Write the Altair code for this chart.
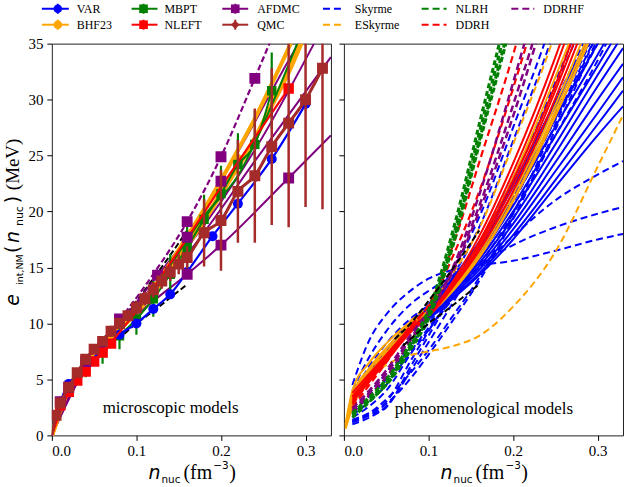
import altair as alt
import pandas as pd

# ---------------- microscopic models (left panel) ----------------
VAR_N = [0.0, 0.01, 0.02, 0.03, 0.04, 0.06, 0.08, 0.10, 0.12, 0.14, 0.16, 0.19, 0.22, 0.26, 0.30]
VAR_E = [0.0, 3.0, 4.6, 5.4, 6.2, 7.7, 9.0, 10.0, 11.3, 12.6, 14.6, 17.8, 20.7, 24.7, 29.6]

MBPT_N = [0.04, 0.06, 0.08, 0.10, 0.12, 0.14, 0.16, 0.18, 0.20, 0.22, 0.24, 0.26]
MBPT_E = [6.0, 7.4, 8.9, 10.4, 12.2, 14.4, 16.8, 19.3, 21.6, 24.2, 26.0, 30.8]
MBPT_ERR = [0.8, 1.0, 1.2, 1.4, 1.6, 1.8, 2.0, 2.2, 2.5, 2.8, 3.0, 3.4]
MBPT2_N = [0.10, 0.14, 0.18, 0.22, 0.26, 0.29]
MBPT2_E = [11.0, 15.2, 19.6, 23.2, 29.5, 35.0]

BHF_N = [0.0, 0.02, 0.04, 0.06, 0.08, 0.10, 0.12, 0.14, 0.16, 0.18, 0.20, 0.22, 0.24, 0.26, 0.28, 0.30]
BHF_E = [0.0, 4.2, 6.2, 7.9, 9.5, 11.0, 12.8, 14.8, 17.0, 19.2, 21.6, 24.0, 26.5, 29.5, 32.5, 36.0]
BHF2_E = [0.0, 4.3, 6.3, 8.0, 9.7, 11.3, 13.2, 15.4, 17.8, 20.2, 22.8, 25.5, 28.3, 31.4, 34.6, 38.0]
BHF_PTS_N = [0.16, 0.18, 0.20, 0.22, 0.24, 0.26]
BHF_PTS_E = [17.4, 19.7, 22.2, 24.7, 26.1, 30.5]

NLEFT_PTS_N = [0.01, 0.02, 0.03, 0.04, 0.05, 0.06, 0.07, 0.28]
NLEFT_PTS_E = [2.7, 3.9, 4.9, 5.7, 6.6, 7.4, 8.2, 31.0]
NLEFT_N = [0.0, 0.02, 0.04, 0.06, 0.08, 0.10, 0.12, 0.14, 0.16, 0.20, 0.24, 0.28]
NLEFT_E = [0.0, 3.9, 5.7, 7.4, 9.2, 11.1, 13.2, 15.4, 17.6, 22.2, 26.6, 31.0]

AFDMC_DASH_N = [0.0, 0.04, 0.08, 0.12, 0.16, 0.20, 0.24, 0.26]
AFDMC_DASH_E = [0.0, 6.5, 10.3, 14.4, 19.1, 24.9, 31.9, 35.5]
AFDMC_LINES_N = [
    [0.0, 0.04, 0.08, 0.12, 0.16, 0.20, 0.24, 0.28, 0.30],
    [0.0, 0.04, 0.08, 0.12, 0.16, 0.20, 0.28, 0.33],
    [0.08, 0.16, 0.24, 0.31],
    [0.08, 0.16, 0.24, 0.33],
]
AFDMC_LINES_E = [
    [0.0, 6.2, 10.0, 13.8, 17.7, 22.7, 28.0, 33.5, 36.0],
    [0.0, 6.0, 9.4, 12.0, 14.4, 17.0, 23.0, 26.8],
    [10.2, 16.8, 25.5, 35.0],
    [10.0, 16.2, 24.5, 33.8],
]
AFDMC_PTS_N = [0.01, 0.02, 0.04, 0.08, 0.125, 0.16, 0.16, 0.16, 0.20, 0.20, 0.20, 0.24, 0.28]
AFDMC_PTS_E = [3.0, 4.3, 6.6, 10.4, 14.3, 14.4, 17.7, 19.1, 17.0, 22.7, 24.9, 31.9, 23.0]

QMC_N = [0.0, 0.005, 0.01, 0.02, 0.03, 0.04, 0.05, 0.06, 0.07, 0.08, 0.09, 0.10, 0.11, 0.12, 0.13,
         0.14, 0.15, 0.16, 0.18, 0.20, 0.22, 0.24, 0.26, 0.28, 0.30, 0.32]
QMC_E = [0.0, 1.8, 2.9, 4.3, 5.6, 6.8, 7.7, 8.4, 9.3, 10.0, 10.7, 11.4, 12.2, 13.0, 13.8,
         14.6, 15.3, 15.9, 18.1, 19.2, 21.8, 23.2, 25.8, 27.9, 30.0, 32.8]
QMC_ERR = [0.0, 0.3, 0.3, 0.3, 0.3, 0.4, 0.4, 0.4, 0.5, 0.5, 0.5, 0.6, 0.6, 0.7, 0.7,
           0.8, 0.9, 1.0, 3.0, 4.5, 4.6, 6.0, 7.0, 9.3, 9.6, 12.6]

BLACK_N = [[0.06, 0.08, 0.10, 0.12, 0.14, 0.16], [0.07, 0.08, 0.10, 0.12, 0.14, 0.16]]
BLACK_E = [[8.6, 10.1, 12.0, 14.0, 16.1, 18.3], [8.0, 8.7, 10.0, 11.1, 12.3, 13.5]]

# ---------------- phenomenological models (right panel) ----------------
PH_N = [0.01, 0.03, 0.05, 0.08, 0.10, 0.13, 0.16, 0.20, 0.25, 0.30, 0.33]
PH_N_ORIGIN = [0.002]  # orange solid curves start close to the origin

SKYRME_DASHED = [
    [3.0, 5.5, 7.5, 10.3, 11.7, 15.0, 19.5, 27.5, 38, 52, 62],
    [2.6, 5.0, 7.2, 10.1, 11.4, 14.4, 18.6, 26.3, 36.5, 50, 60],
    [1.2, 1.8, 2.5, 6.3, 8.9, 12.8, 16.8, 22.8, 31.2, 40, 46],
    [1.4, 2.0, 3.0, 6.8, 9.3, 13.0, 17.0, 23.0, 31.6, 41, 47],
    [1.0, 1.6, 2.6, 5.9, 8.3, 12.0, 15.8, 21.7, 29.8, 38, 44],
    [1.6, 2.6, 4.0, 7.4, 9.4, 12.5, 15.8, 20.8, 28.3, 36, 41],
    [2.0, 3.5, 5.0, 8.2, 10.0, 12.9, 16.0, 21.2, 28.7, 36.5, 41.5],
    [2.2, 3.8, 5.6, 8.8, 10.5, 13.4, 16.4, 21.2, 28.2, 35.0, 39.5],
    [1.8, 3.0, 4.5, 7.6, 9.6, 12.3, 15.2, 19.8, 26.8, 33.5, 38],
    [1.2, 1.8, 2.8, 5.2, 7.2, 10.4, 13.8, 19.3, 27.3, 35.5, 41],
    [1.3, 2.0, 3.2, 5.7, 7.6, 10.8, 14.1, 19.8, 27.8, 36, 41.5],
    [4.5, 8.5, 10.8, 13.0, 14.0, 14.8, 15.2, 15.6, 16.5, 17.5, 18.0],
    [4.0, 7.0, 9.3, 11.8, 12.9, 14.2, 15.3, 17.0, 18.6, 19.8, 20.4],
    [3.5, 6.2, 8.2, 10.5, 11.6, 13.2, 15.0, 17.8, 21.0, 23.3, 24.5],
]
SKYRME_SOLID = [
    [3.0, 5.5, 7.5, 10.0, 11.2, 13.8, 16.8, 21.6, 28.4, 35.0, 39.0],
    [3.2, 5.6, 7.6, 10.0, 11.1, 13.5, 16.3, 21.0, 27.6, 34.0, 38.0],
    [2.8, 5.3, 7.4, 9.9, 11.0, 13.4, 16.0, 20.5, 26.8, 33.0, 36.8],
    [3.1, 5.4, 7.4, 9.9, 11.0, 13.2, 15.7, 20.0, 26.0, 32.2, 35.8],
    [3.3, 5.6, 7.5, 9.8, 10.8, 13.0, 15.4, 19.4, 25.2, 31.2, 34.6],
    [2.9, 5.2, 7.2, 9.6, 10.7, 12.8, 15.1, 18.9, 24.4, 30.0, 33.2],
    [3.0, 5.3, 7.2, 9.6, 10.6, 12.6, 14.8, 18.4, 23.6, 28.8, 32.0],
    [3.2, 5.4, 7.3, 9.5, 10.5, 12.4, 14.5, 17.9, 22.8, 27.8, 30.8],
    [2.8, 5.0, 7.0, 9.4, 10.4, 12.3, 14.3, 17.5, 22.2, 26.8, 29.4],
    [3.0, 5.4, 7.5, 10.1, 11.4, 14.2, 17.3, 22.5, 29.8, 37.0, 41.5],
    [3.3, 5.7, 7.7, 10.2, 11.4, 14.1, 17.1, 22.2, 29.4, 36.5, 41.0],
]
ESKYRME_DASHED = [
    [3.0, 5.5, 7.6, 10.3, 11.6, 14.6, 18.5, 26.0, 36.0, 49, 58],
    [3.0, 5.0, 6.3, 7.2, 7.5, 8.0, 8.9, 11.5, 16.4, 24.0, 28.6],
]
ESKYRME_SOLID = [
    [0.9, 3.5, 6.0, 7.8, 10.0, 11.0, 13.3, 16.3, 21.5, 29.5, 39, 46],
    [0.7, 3.0, 5.5, 7.4, 9.8, 10.9, 13.1, 15.9, 20.9, 28.5, 37.5, 44],
    [1.0, 4.0, 6.5, 8.2, 10.2, 11.1, 13.3, 16.0, 21.0, 28.6, 37, 43],
    [0.6, 2.5, 5.0, 7.0, 9.5, 10.7, 13.0, 15.9, 21.0, 29.0, 38, 45],
    [0.8, 3.2, 5.8, 7.7, 9.9, 10.9, 13.6, 17.0, 23.0, 32.0, 42, 50],
]
DDRH_SOLID = [
    [3.5, 5.2, 7.0, 9.5, 10.8, 13.9, 17.8, 24.3, 33.8, 45, 53],
    [3.2, 5.0, 6.8, 9.4, 10.7, 13.6, 17.3, 23.5, 32.8, 44, 52],
    [3.8, 5.5, 7.2, 9.7, 10.9, 13.7, 17.1, 22.8, 31.3, 42, 49],
    [3.0, 4.8, 6.6, 9.3, 10.6, 13.4, 16.8, 22.3, 30.8, 41, 48],
    [3.4, 5.3, 7.1, 9.6, 10.8, 13.4, 16.5, 21.8, 30.1, 40, 47],
]
DDRH_DASHED = [
    [2.5, 4.5, 6.5, 9.8, 11.6, 17.2, 24.4, 34.0, 48, 66, 78],
    [2.8, 4.8, 6.8, 9.9, 11.5, 16.2, 21.8, 31.0, 44, 60, 72],
]
DDRHF_DASHED = [
    [2.2, 3.8, 5.5, 8.8, 10.9, 15.2, 21.5, 31.5, 45, 60, 70],
    [2.4, 4.0, 5.8, 9.1, 11.1, 15.0, 20.5, 29.5, 42, 57, 67],
    [2.0, 3.6, 5.2, 8.6, 10.7, 14.8, 20.0, 28.5, 41, 55, 65],
]
NLRH_DASHED = [
    [1.8, 3.2, 4.8, 8.2, 10.8, 18.0, 27.0, 39, 55, 75, 90],
    [2.0, 3.4, 5.0, 8.4, 11.2, 18.6, 27.8, 40, 56, 76, 90],
    [1.6, 3.0, 4.6, 8.0, 10.6, 17.5, 26.3, 38, 54, 74, 88],
    [1.9, 3.1, 4.5, 7.8, 10.4, 17.2, 26.0, 37.5, 53, 72, 86],
]

MICRO_LEGEND = [("VAR", "blue", "circle"), ("BHF23", "orange", "circle"),
                ("MBPT", "green", "square"), ("NLEFT", "red", "square"),
                ("AFDMC", "purple", "square"), ("QMC", "brown", "diamond")]
PHENO_LEGEND = [("Skyrme", "blue"), ("ESkyrme", "orange"), ("NLRH", "green"),
                ("DDRH", "red"), ("DDRHF", "purple")]

# ---------------- helpers ----------------
SERIF = "Liberation Serif"
SANS = "DejaVu Sans"
W, H = 280, 393

xs = alt.Scale(domain=[0, 0.33], nice=False, zero=False)
ys = alt.Scale(domain=[0, 35], nice=False, zero=False)


def xaxis():
    return alt.Axis(values=[0, 0.1, 0.2, 0.3], format=".1f", title=None, grid=False, domain=False,
                    tickSize=5, tickColor="black", labelColor="black", labelFont=SERIF,
                    labelFontSize=15, labelPadding=3)


def yaxis(labels=True):
    return alt.Axis(values=[0, 5, 10, 15, 20, 25, 30, 35], title=None, grid=False, domain=False,
                    tickSize=5, tickColor="black", labelColor="black", labelFont=SERIF,
                    labelFontSize=15, labelPadding=4, labels=labels)


def enc(labels=True):
    return dict(x=alt.X("n:Q", scale=xs, axis=xaxis()), y=alt.Y("e:Q", scale=ys, axis=yaxis(labels)))


def multi_df(ns_list, es_list, name):
    rows = []
    for i, (ns, es) in enumerate(zip(ns_list, es_list)):
        for n, e in zip(ns, es):
            rows.append({"n": n, "e": e, "id": f"{name}{i}"})
    return pd.DataFrame(rows)


def line(df, color, width=2.0, dash=None, labels=True, opacity=1.0):
    kw = dict(color=color, strokeWidth=width, clip=True, interpolate="monotone", opacity=opacity)
    if dash:
        kw["strokeDash"] = dash
    if "id" not in df.columns:
        df = df.assign(id="a")
    return alt.Chart(df).mark_line(**kw).encode(detail="id:N", **enc(labels))


def points(n, e, color, shape, size=100):
    df = pd.DataFrame({"n": n, "e": e})
    return alt.Chart(df).mark_point(filled=True, shape=shape, size=size, color=color, opacity=1,
                                    clip=True).encode(**enc())


def errbars(n, e, err, color, width=2.0):
    df = pd.DataFrame({"n": n, "lo": [a - b for a, b in zip(e, err)], "hi": [a + b for a, b in zip(e, err)]})
    return alt.Chart(df).mark_rule(color=color, strokeWidth=width, clip=True).encode(
        x=alt.X("n:Q", scale=xs, axis=xaxis()),
        y=alt.Y("lo:Q", scale=ys, axis=yaxis()), y2="hi:Q")


def txt(s, x, y, size, font=SERIF, style="normal", angle=0, baseline="alphabetic", align="left"):
    return alt.Chart(pd.DataFrame({"t": [s]})).mark_text(
        text=s, font=font, fontSize=size, fontStyle=style, angle=angle, baseline=baseline,
        align=align, color="black").encode(x=alt.value(x), y=alt.value(y))


def hseg(x0, x1, y, color, width=2.0, dash=None):
    kw = dict(color=color, strokeWidth=width)
    if dash:
        kw["strokeDash"] = dash
    return alt.Chart(pd.DataFrame({"t": [0]})).mark_rule(**kw).encode(
        x=alt.value(x0), x2=alt.value(x1), y=alt.value(y))


def vseg(x, y0, y1, color, width=2.0):
    return alt.Chart(pd.DataFrame({"t": [0]})).mark_rule(color=color, strokeWidth=width).encode(
        x=alt.value(x), y=alt.value(y0), y2=alt.value(y1))


def marker(x, y, color, shape, size=80):
    return alt.Chart(pd.DataFrame({"t": [0]})).mark_point(
        filled=True, shape=shape, size=size, color=color, opacity=1).encode(
        x=alt.value(x), y=alt.value(y))


def xtitle():
    # n_nuc (fm^-3), panel coordinates
    return [
        txt("n", 97, 437, 19, font=SANS, style="italic"),
        txt("nuc", 110, 441, 10.5, font=SANS),
        txt("(fm", 132, 437, 20, font=SERIF),
        txt("\u22123", 162, 427, 10.5, font=SANS),
        txt(")", 178, 437, 20, font=SERIF),
    ]


# ---------------- left panel ----------------
L = []
L.append(line(multi_df(BLACK_N, BLACK_E, "blk"), "black", 2.0, dash=[6, 3]))
L.append(line(multi_df(AFDMC_LINES_N, AFDMC_LINES_E, "af"), "purple", 2.0))
L.append(line(pd.DataFrame({"n": AFDMC_DASH_N, "e": AFDMC_DASH_E}), "purple", 2.2, dash=[6, 3]))
L.append(line(pd.DataFrame({"n": BHF_N, "e": BHF2_E}), "orange", 4.0))
L.append(line(pd.DataFrame({"n": BHF_N, "e": BHF_E}), "orange", 5.0))
L.append(points(BHF_PTS_N, BHF_PTS_E, "orange", "circle", 90))
L.append(line(pd.DataFrame({"n": MBPT2_N, "e": MBPT2_E}), "green", 2.0))
L.append(errbars(MBPT_N, MBPT_E, MBPT_ERR, "green", 2.2))
L.append(line(pd.DataFrame({"n": MBPT_N, "e": MBPT_E}), "green", 2.0))
L.append(points(MBPT_N, MBPT_E, "green", "square", 90))
L.append(line(pd.DataFrame({"n": VAR_N, "e": VAR_E}), "blue", 2.2))
L.append(points(VAR_N[1:], VAR_E[1:], "blue", "circle", 100))
L.append(line(pd.DataFrame({"n": NLEFT_N, "e": NLEFT_E}), "red", 2.2))
L.append(points(NLEFT_PTS_N, NLEFT_PTS_E, "red", "square", 110))
L.append(points(AFDMC_PTS_N, AFDMC_PTS_E, "purple", "square", 120))
L.append(errbars(QMC_N, QMC_E, QMC_ERR, "brown", 2.5))
L.append(line(pd.DataFrame({"n": QMC_N, "e": QMC_E}), "brown", 3.0))
L.append(points(QMC_N[1:], QMC_E[1:], "brown", "square", 120))

L.append(txt("microscopic models", 51, 371, 17))

# y-axis title (rotated pieces), panel coordinates
YB, YS = -33, -29
L += [
    txt("e", YB, 263, 19, font=SANS, style="italic", angle=270),
    txt("int,NM", YS, 242, 9.5, font=SANS, angle=270),
    txt("(", YB, 210, 19, font=SANS, angle=270),
    txt("n", YB, 200, 19, font=SANS, style="italic", angle=270),
    txt("nuc", YS, 183, 11, font=SANS, angle=270),
    txt(")", YB, 160, 19, font=SANS, angle=270),
    txt("(MeV)", YB, 147, 19, font=SERIF, angle=270),
]
L += xtitle()

# microscopic legend
lx = [(-10, 17, 6, 25), (80, 106, 92, 113), (171, 197, 184, 206)]
for i, (lab, col, shp) in enumerate(MICRO_LEGEND):
    c, r = i // 2, i % 2
    x0, x1, xm, xt = lx[c]
    yy = -35 + 16 * r
    L.append(hseg(x0, x1, yy, col, 2.0))
    L.append(vseg(xm, yy - 5, yy + 5, col, 2.0))
    L.append(marker(xm, yy, col, shp, 75))
    L.append(txt(lab, xt, yy, 12, baseline="middle"))

left = alt.layer(*L).properties(width=W, height=H)

# ---------------- right panel ----------------
def ph_df(curves, name, grid=PH_N):
    return multi_df([grid] * len(curves), curves, name)


DASH = [7, 4]
R = []
R.append(line(ph_df(SKYRME_DASHED, "skd"), "blue", 2.0, dash=DASH, labels=False))
R.append(line(ph_df(SKYRME_SOLID, "sks"), "blue", 2.0, labels=False))
R.append(line(ph_df(ESKYRME_DASHED, "esd"), "orange", 2.0, dash=DASH, labels=False))
R.append(line(ph_df(ESKYRME_SOLID, "ess", PH_N_ORIGIN + PH_N), "orange", 2.0, labels=False))
R.append(line(ph_df(DDRH_SOLID, "drs"), "red", 2.0, labels=False))
R.append(line(ph_df(DDRH_DASHED, "drd"), "red", 2.2, dash=DASH, labels=False))
R.append(line(ph_df(DDRHF_DASHED, "dfd"), "purple", 2.5, dash=DASH, labels=False))
R.append(line(ph_df(NLRH_DASHED, "nl"), "green", 3.0, dash=[5, 3], labels=False))
R.append(line(multi_df(BLACK_N, BLACK_E, "blk"), "black", 2.0, dash=[6, 3], labels=False))
R.append(txt("phenomenological models", 51, 372, 17))
R += xtitle()

px = [(-21, -1, 11), (78, 103, 112), (168, 191, 200)]
for i, (lab, col) in enumerate(PHENO_LEGEND):
    c, r = i // 2, i % 2
    x0, x1, xt = px[c]
    yy = -35 + 16 * r
    R.append(hseg(x0, x1, yy, col, 2.0, dash=[7, 4]))
    R.append(txt(lab, xt, yy, 12, baseline="middle"))

right = alt.layer(*R).properties(width=W, height=H)

chart = alt.hconcat(left, right, spacing=13, bounds="flush").properties(
    padding={"left": 3, "top": 1, "right": 0, "bottom": 0}
).configure_view(stroke="#222", strokeWidth=1).configure_axis(labelFont=SERIF)

chart.save("out.html", embed_options={"renderer": "svg", "actions": False})
